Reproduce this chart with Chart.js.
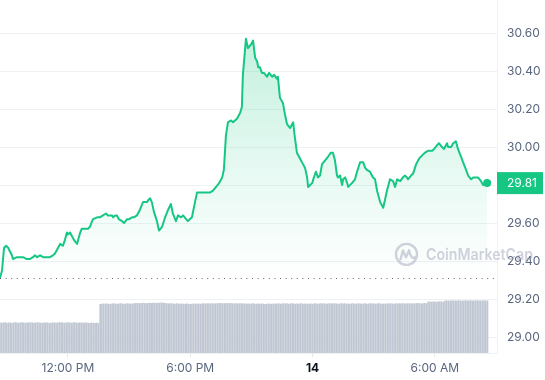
<!DOCTYPE html>
<html>
<head>
<meta charset="utf-8">
<script src="https://cdn.jsdelivr.net/npm/chart.js@4/dist/chart.umd.min.js"></script>
<style>
html,body{margin:0;padding:0;background:#ffffff;}
#wrap{width:545px;height:380px;position:relative;}
</style>
</head>
<body>
<div id="wrap"><canvas id="c" width="545" height="380"></canvas></div>
<script>
// time in minutes after midnight of day 13 (1440 = midnight, day 14)
const priceTimes = [
 520,526,532,538,544,555,558,570,579,588,599,608,617,623,629,638,647,658,667,676,682,691,697,705,711,717,720,726,732,738,747,750,756,761,770,779,785,791,794,806,814,823,832,838,850,853,859,864,870,
 879,885,894,900,909,914,923,932,941,947,953,956,962,967,973,982,988,997,1006,1015,1023,1029,1038,1044,1053,1059,1068,1073,1085,1094,1100,1109,1118,1129,1138,
 1147,1156,1165,1174,1179,1185,1191,1200,1206,1218,1227,1232,1235,1244,1250,1259,1265,1271,1277,1280,1285,1291,1297,1306,1312,1321,1327,1335,1338,1344,1353,1359,1365,1374,1383,1388,1394,1403,
 1412,1418,1424,1427,1439,1444,1450,1456,1462,1468,1477,1486,1494,1500,1506,1512,1515,1521,1527,1530,1536,1542,1545,1556,1565,1571,1580,1589,1595,1600,1609,1618,1624,1630,1639,1648,1653,1659,1668,
 1677,1683,1689,1698,1706,1712,1718,1721,1730,1736,1745,1754,1765,1771,1780,1792,1798,1807,1812,1821,1827,1836,1839,1848,1854,1862,1868,1877,1883,1892,1898,1907,1913,1921,1927,1936,1942,1948,1954
];
const prices = [
 29.31,29.35,29.47,29.48,29.47,29.43,29.41,29.42,29.42,29.42,29.41,29.41,29.42,29.43,29.42,29.43,29.42,29.42,29.42,29.43,29.44,29.47,29.49,29.48,29.51,29.55,29.54,29.55,29.53,29.51,29.49,29.51,29.55,29.57,29.57,29.57,29.58,29.61,29.62,29.63,29.63,29.64,29.65,29.64,29.64,29.63,29.64,29.64,29.62,
 29.61,29.60,29.62,29.62,29.63,29.63,29.64,29.67,29.71,29.71,29.71,29.72,29.73,29.71,29.66,29.61,29.56,29.58,29.63,29.67,29.70,29.65,29.61,29.64,29.63,29.64,29.62,29.61,29.63,29.71,29.76,29.76,29.76,29.76,29.76,
 29.77,29.79,29.81,29.84,29.88,30.06,30.13,30.14,30.13,30.15,30.18,30.21,30.38,30.57,30.52,30.54,30.56,30.47,30.45,30.42,30.42,30.39,30.39,30.37,30.39,30.37,30.38,30.36,30.37,30.26,30.23,30.17,30.12,30.10,30.13,30.05,29.97,29.94,
 29.91,29.89,29.84,29.79,29.81,29.84,29.87,29.84,29.85,29.91,29.93,29.95,29.97,29.97,29.93,29.85,29.84,29.85,29.80,29.83,29.84,29.81,29.79,29.81,29.83,29.87,29.92,29.92,29.89,29.88,29.87,29.84,29.83,29.77,29.71,29.68,29.72,29.77,29.83,
 29.82,29.79,29.83,29.82,29.84,29.85,29.84,29.83,29.85,29.86,29.91,29.94,29.96,29.97,29.98,29.98,29.99,30.01,30.02,30.00,29.99,30.02,30.00,30.00,30.02,30.03,29.99,29.95,29.92,29.88,29.85,29.83,29.84,29.84,29.84,29.82,29.80,29.81,29.81
];
// volume bars: one every 5 minutes from 08:40
const volStart = 520;
const volStep = 5;
const volumes = [
 34.2,33.8,34.0,34.3,33.9,34.1,34.0,33.7,34.2,34.4,
 34.0,33.9,34.1,34.3,34.2,33.8,34.0,34.1,34.4,34.2,
 33.9,34.0,34.3,34.1,33.8,33.9,34.2,34.0,34.1,33.7,
 33.9,34.0,34.2,33.8,34.1,34.5,34.3,34.0,33.9,34.2,
 34.4,34.1,33.8,34.0,34.3,34.2,33.9,34.1,34.0,33.8,
 34.2,34.1,33.9,33.7,34.0,33.8,33.6,33.9,33.7,
 55.0,55.3,55.6,55.4,55.7,55.5,55.2,55.6,55.8,55.5,
 55.4,55.7,55.9,55.6,55.3,55.5,55.8,55.6,55.4,55.7,
 56.0,56.2,56.1,55.9,56.3,56.4,56.2,56.0,56.3,56.5,
 56.2,56.4,56.6,56.3,56.1,56.5,56.8,56.4,56.2,56.0,
 55.8,55.6,55.9,55.7,55.5,55.8,55.6,55.4,55.7,55.5,
 55.3,55.6,55.4,55.2,55.5,55.7,55.4,55.6,55.3,55.5,
 55.7,55.9,55.6,55.8,56.0,55.7,55.9,55.6,55.8,56.0,
 55.9,56.1,55.8,56.0,56.2,55.9,56.1,55.8,56.0,55.7,
 55.9,55.6,55.8,56.0,55.7,55.9,55.5,55.7,55.4,55.6,
 55.8,55.5,55.3,55.6,55.4,55.7,55.5,55.2,55.4,55.6,
 55.3,55.5,55.7,55.4,55.6,55.8,55.5,55.7,55.9,55.6,
 55.8,55.5,55.7,55.9,55.6,55.4,55.7,55.5,55.8,55.6,
 55.4,55.6,55.3,55.5,55.7,55.4,55.6,55.8,55.5,55.7,
 55.9,55.6,55.8,55.5,55.7,55.9,55.6,55.8,56.0,55.7,
 55.5,55.7,55.9,55.6,55.8,55.5,55.7,55.4,55.6,55.8,
 55.5,55.7,55.9,55.6,55.4,55.6,55.8,55.5,55.7,55.9,
 55.6,55.8,55.5,55.7,55.9,55.6,55.4,55.7,55.5,55.8,
 55.6,55.9,55.7,55.5,55.8,55.6,55.9,55.7,56.0,55.8,
 55.6,55.8,56.0,55.7,55.9,55.6,55.8,56.1,55.9,55.7,
 55.9,56.1,55.8,
 57.6,57.9,57.7,58.0,57.8,57.6,57.9,58.1,57.8,57.7,
 58.9,59.1,59.0,58.8,59.2,59.0,58.9,59.1,59.3,59.0,
 58.8,59.1,59.2,58.9,59.0,59.2,59.1,58.9,59.0,59.3,
 59.1,58.9,59.0,59.2,59.1,59.0
];
const xTickValues = [720, 1080, 1440, 1800];
const xTickLabels = ['12:00 PM', '6:00 PM', '14', '6:00 AM'];
const yTickValues = [29.0, 29.2, 29.4, 29.6, 29.8, 30.0, 30.2, 30.4, 30.6];
const openPrice = prices[0];
const lastPrice = prices[prices.length - 1];

const GREEN = '#16c784';
const FONT = 'Inter, "Noto Sans", sans-serif';

const pricePoints = priceTimes.map((t, i) => ({x: t, y: prices[i]}));
const volPoints = volumes.map((v, i) => ({x: volStart + i * volStep, y: v}));

const overlay = {
  id: 'overlay',
  beforeDatasetsDraw(chart) {
    const {ctx, chartArea} = chart;
    ctx.save();
    ctx.strokeStyle = '#eff2f5';
    ctx.lineWidth = 1;
    ctx.beginPath();
    ctx.moveTo(Math.round(chartArea.right) + 0.5, 0);
    ctx.lineTo(Math.round(chartArea.right) + 0.5, chartArea.top);
    ctx.stroke();
    ctx.restore();
  },
  afterDatasetsDraw(chart) {
    const {ctx, chartArea, scales} = chart;
    const y = Math.round(scales.y.getPixelForValue(openPrice)) + 0.5;
    ctx.save();
    ctx.strokeStyle = '#5f6672';
    ctx.lineWidth = 1;
    ctx.setLineDash([1, 4.6]);
    ctx.beginPath();
    ctx.moveTo(chartArea.left, y);
    ctx.lineTo(chartArea.right, y);
    ctx.stroke();
    ctx.restore();
  },
  afterDraw(chart) {
    const {ctx, chartArea, scales} = chart;
    // last price tag
    const yl = scales.y.getPixelForValue(lastPrice);
    ctx.save();
    ctx.fillStyle = GREEN;
    ctx.fillRect(chartArea.right, yl - 11, 46, 22);
    ctx.fillStyle = '#ffffff';
    ctx.font = '12px ' + FONT;
    ctx.textBaseline = 'middle';
    ctx.textAlign = 'left';
    ctx.fillText(lastPrice.toFixed(2), chartArea.right + 10, yl + 0.5);
    // watermark
    const wy = scales.y.getPixelForValue(29.435);
    const cx = chartArea.right - 90.5, r = 10.5;
    const wm = 'rgba(160,166,185,0.5)';
    ctx.strokeStyle = wm;
    ctx.lineWidth = 2.4;
    ctx.lineJoin = 'round';
    ctx.lineCap = 'round';
    ctx.beginPath();
    ctx.arc(cx, wy, r, 0, Math.PI * 2);
    ctx.stroke();
    ctx.beginPath();
    ctx.moveTo(cx - 6, wy + 5);
    ctx.lineTo(cx - 3.5, wy - 4);
    ctx.lineTo(cx - 0.5, wy + 3);
    ctx.lineTo(cx + 2.5, wy - 4);
    ctx.quadraticCurveTo(cx + 5, wy + 6, cx + 8, wy + 3);
    ctx.stroke();
    ctx.fillStyle = wm;
    ctx.font = '600 16px ' + FONT;
    ctx.textBaseline = 'middle';
    const label = 'CoinMarketCap';
    const w = ctx.measureText(label).width;
    ctx.translate(cx + 19.5, wy + 0.5);
    ctx.scale(107 / w, 1);
    ctx.fillText(label, 0, 0);
    ctx.restore();
  }
};

new Chart(document.getElementById('c'), {
  type: 'line',
  data: {
    datasets: [
      {
        type: 'line',
        data: pricePoints,
        yAxisID: 'y',
        order: 0,
        borderColor: GREEN,
        borderWidth: 2,
        tension: 0,
        borderJoinStyle: 'round',
        pointRadius: ctx => ctx.dataIndex === prices.length - 1 ? 4 : 0,
        pointBackgroundColor: GREEN,
        pointBorderWidth: 0,
        fill: 'start',
        backgroundColor: ctx => {
          const chart = ctx.chart;
          const area = chart.chartArea;
          if (!area) return 'rgba(22,199,132,0.1)';
          const ys = chart.scales.y;
          const g = chart.ctx.createLinearGradient(0, ys.getPixelForValue(30.6), 0, ys.getPixelForValue(openPrice));
          g.addColorStop(0, 'rgba(22,199,132,0.26)');
          g.addColorStop(0.5, 'rgba(22,199,132,0.12)');
          g.addColorStop(1, 'rgba(22,199,132,0.0)');
          return g;
        }
      },
      {
        type: 'bar',
        data: volPoints,
        yAxisID: 'yv',
        order: 1,
        backgroundColor: '#c0c7d3',
        barThickness: 1,
        grouped: false
      }
    ]
  },
  options: {
    responsive: false,
    animation: false,
    devicePixelRatio: 1,
    layout: {autoPadding: false, padding: {left: 0, right: 0, top: 0, bottom: 0}},
    plugins: {legend: {display: false}, tooltip: {enabled: false}},
    scales: {
      x: {
        type: 'linear',
        offset: false,
        min: 520,
        max: 1983,
        afterBuildTicks: s => { s.ticks = xTickValues.map(v => ({value: v})); },
        afterFit: s => { s.height = 27; },
        ticks: {
          autoSkip: false,
          maxRotation: 0,
          padding: 4,
          color: ctx => ctx.tick && ctx.tick.value === 1440 ? '#0d1421' : '#58667e',
          font: ctx => ({family: FONT, size: 12, weight: ctx.tick && ctx.tick.value === 1440 ? 'bold' : 'normal'}),
          callback: v => xTickLabels[xTickValues.indexOf(v)]
        },
        grid: {offset: false, drawOnChartArea: false, drawTicks: true, tickLength: 4, color: '#e3e6eb'},
        border: {display: true, color: '#eff2f5'}
      },
      y: {
        position: 'right',
        min: 28.9158,
        max: 30.6832,
        afterBuildTicks: s => { s.ticks = yTickValues.map(v => ({value: v})); },
        afterFit: s => { s.width = 48; },
        ticks: {
          padding: 10,
          color: '#58667e',
          font: {family: FONT, size: 12},
          callback: v => Number(v).toFixed(2)
        },
        grid: {color: '#eff2f5', drawTicks: false},
        border: {display: true, color: '#eff2f5'}
      },
      yv: {display: false, min: 0, max: 380}
    }
  },
  plugins: [overlay]
});
</script>
</body>
</html>
